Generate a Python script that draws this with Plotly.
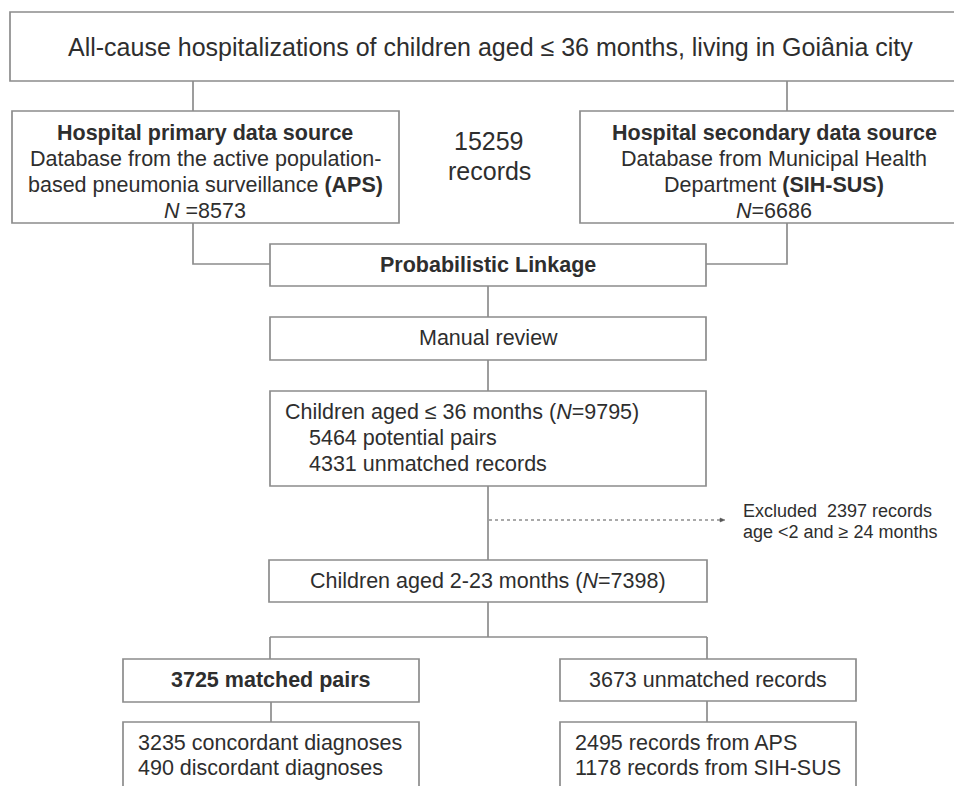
import plotly.graph_objects as go

# ---- data (counts shown in the flowchart) ----
total_records = 15259
aps_n = 8573
sih_n = 6686
children36_n = 9795
potential_pairs = 5464
unmatched36 = 4331
excluded_n = 2397
children223_n = 7398
matched_pairs = 3725
unmatched_records = 3673
concordant = 3235
discordant = 490
from_aps = 2495
from_sih = 1178

# ---- layout geometry (pixel canvas, y downward) ----
W, H = 954, 786
LINE = "#8c8c8c"
TXT = "#2e2e2e"
FONT = "Arial, Liberation Sans, sans-serif"

boxes = {
    "top": (10, 970, 12, 81),
    "aps": (12, 399, 111, 223),
    "sih": (580, 968, 111, 223),
    "link": (270, 706, 244, 286),
    "manual": (270, 706, 317, 360),
    "c36": (270, 706, 391, 486),
    "c223": (269, 707, 560, 602),
    "matched": (123, 419, 659, 702),
    "unmatched": (560, 856, 659, 701),
    "diag": (123, 419, 722, 830),
    "src": (560, 856, 722, 830),
}

connectors = [
    [(193, 81), (193, 111)],
    [(787, 81), (787, 111)],
    [(193, 223), (193, 264), (270, 264)],
    [(787, 223), (787, 264), (706, 264)],
    [(488, 286), (488, 317)],
    [(488, 360), (488, 391)],
    [(488, 486), (488, 560)],
    [(488, 602), (488, 637)],
    [(270, 637), (707, 637)],
    [(270, 637), (270, 659)],
    [(707, 637), (707, 659)],
    [(271, 702), (271, 722)],
    [(707, 701), (707, 722)],
]

shapes = []
for (x0, x1, y0, y1) in boxes.values():
    shapes.append(dict(type="rect", xref="x", yref="y", x0=x0, x1=x1, y0=y0, y1=y1,
                       line=dict(color=LINE, width=1.7), fillcolor="rgba(0,0,0,0)"))
for pts in connectors:
    path = "M " + " L ".join(f"{x},{y}" for x, y in pts)
    shapes.append(dict(type="path", xref="x", yref="y", path=path,
                       line=dict(color=LINE, width=1.7)))
# dotted exclusion arrow
shapes.append(dict(type="line", xref="x", yref="y", x0=489, x1=722, y0=520, y1=520,
                   line=dict(color="#555555", width=1.2, dash="dot")))
shapes.append(dict(type="path", xref="x", yref="y", path="M 720,518 L 725,520 L 720,522 Z",
                   line=dict(color="#555555", width=0.5), fillcolor="#555555"))

ann = []
def t(x, y, text, size=21.5, anchor="center"):
    ann.append(dict(x=x, y=y, xref="x", yref="y", text=text, showarrow=False,
                    xanchor=anchor, yanchor="middle",
                    font=dict(family=FONT, size=size, color=TXT)))

t(490, 47, "All-cause hospitalizations of children aged ≤ 36 months, living in Goiânia city", 25)
t(205, 133, "<b>Hospital primary data source</b>")
t(205, 159, "Database from the active population-")
t(205, 185, "based pneumonia surveillance <b>(APS)</b>")
t(205, 211, f"<i>N</i> ={aps_n}")
t(489, 141, f"{total_records}", 25)
t(489, 171, "records", 25)
t(774, 133, "<b>Hospital secondary data source</b>")
t(774, 159, "Database from Municipal Health")
t(774, 185, "Department <b>(SIH-SUS)</b>")
t(774, 211, f"<i>N</i>={sih_n}")
t(488, 265, "<b>Probabilistic Linkage</b>")
t(488, 338, "Manual review")
t(283, 412, f"Children aged ≤ 36 months (<i>N</i>={children36_n})", anchor="left")
t(307, 438, f"{potential_pairs} potential pairs", anchor="left")
t(307, 464, f"{unmatched36} unmatched records", anchor="left")
t(741, 511, f"Excluded  {excluded_n} records", 18, anchor="left")
t(741, 532, "age <2 and ≥ 24 months", 18, anchor="left")
t(488, 581, f"Children aged 2-23 months (<i>N</i>={children223_n})")
t(271, 680, f"<b>{matched_pairs} matched pairs</b>")
t(708, 680, f"{unmatched_records} unmatched records")
t(136, 743, f"{concordant} concordant diagnoses", anchor="left")
t(136, 768, f"{discordant} discordant diagnoses", anchor="left")
t(573, 743, f"{from_aps} records from APS", anchor="left")
t(573, 768, f"{from_sih} records from SIH-SUS", anchor="left")

fig = go.Figure()
fig.update_layout(
    width=W, height=H, margin=dict(l=0, r=0, t=0, b=0),
    paper_bgcolor="white", plot_bgcolor="white",
    xaxis=dict(range=[0, W], visible=False, fixedrange=True),
    yaxis=dict(range=[H, 0], visible=False, fixedrange=True),
    shapes=shapes, annotations=ann, showlegend=False,
)
fig.write_html("out.html", config={"displayModeBar": False},
               post_script="document.body.style.margin='0';document.body.style.overflow='hidden';")
